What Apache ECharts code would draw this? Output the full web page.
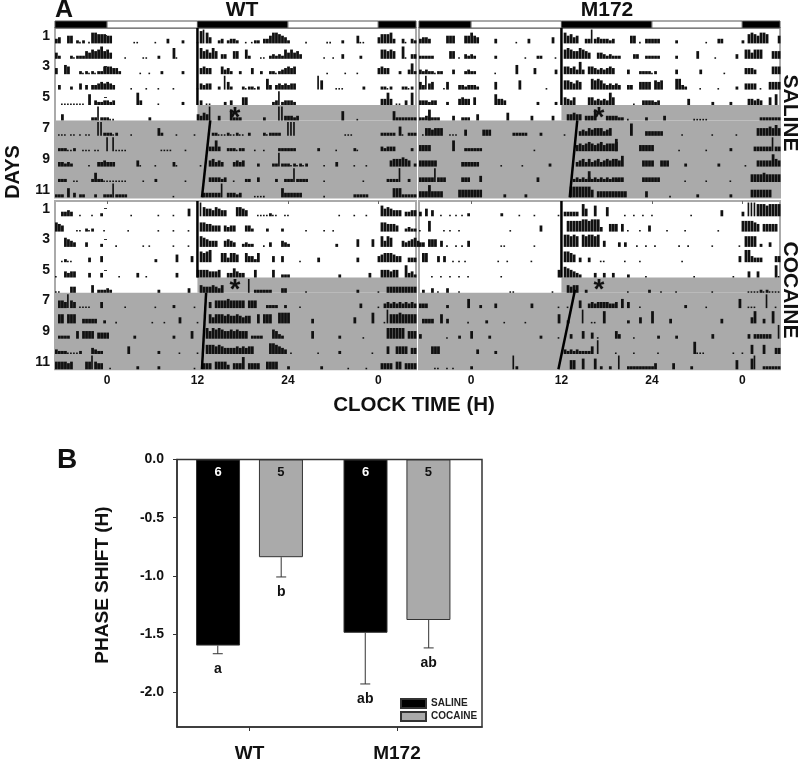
<!DOCTYPE html>
<html>
<head>
<meta charset="utf-8">
<title>Actograms and phase shift</title>
<style>html,body{margin:0;padding:0;background:#fff}#main{width:800px;height:760px}</style>
<script src="https://cdn.jsdelivr.net/npm/echarts@6/dist/echarts.min.js"></script>
</head>
<body>
<div id="main"></div>
<script>
// activity: "bin:heights", one bin = 0.4 h, digit = tenth of a row or so
var wtSaline = [
  '0:34 4:55 7:212 11:1 12:7766655 26:11 33:1 37:3 42:2 47:1 48:89 50:74 54:23 57:2332 63:1 65:122 69:3357 73:7654 77:2 83:1 90:11 95:2 100:5 101:11 107:4666 111:73 115:31 118:32',
  '0:42 5:2122 9:25465 14:68564 23:1 29:11 34:2 39:71 48:756475 55:33 59:55 63:62 68:11 71:23232 76:646453 89:1 92:1 95:3 101:2 108:66565 115:8 116:1 118:33',
  '0:4 3:65 8:21212122 16:55544 21:2 28:1 31:1 35:2 42:2 48:4544 55:534 58:2 61:2 65:4 68:2 71:2212 75:34545 90:1 96:1 100:1 107:4544 114:2 117:372',
  '1:3 5:2 8:4 10:3 12:33454543 25:1 30:1 34:1 39:1 47:1 48:4344 54:2 56:952 62:212212 70:73 73:3434344 87:96 93:111 102:2 108:2212 115:2212',
  '2:11111111 11:7 13:3223323 27:83 34:1 42:2 48:3 50:11 56:2 58:3 62:55 72:23923332 108:4484 113:11 116:3 118:8',
  '2:4 12:22922211 31:2 47:43549 54:3 58:7222 69:2 74:99 76:33323 95:6 100:1 112:6 113:2222222',
  '1:11101101011 14:99 16:22212 25:1 34:52 40:1 46:1 52:22111211211 64:2 69:212222 77:999 96:111 108:22222 114:61 117:222',
  '1:222112 9:111011 17:9 19:9 20:1111 35:1111 43:1 51:3373 57:222122 66:1 69:1 74:222222 87:2 93:1 99:21 108:32333 118:2',
  '1:33232 11:1 14:334333 27:41 33:1 39:31 48:1 51:45343 59:3434 67:2 72:2292 76:22121212 89:1 93:3 99:1 103:1 111:4555654 119:2',
  '1:222 6:11 12:2622 16:11111111 29:1 33:2 43:1 51:333323 59:1 63:22 67:3 73:2 76:22292222 89:1 102:1 110:22229 117:2',
  '0:222 4:6 6:3 8:22 13:2 16:22292222 39:1 49:3333339 57:33323 66:1111 75:6 76:333333 89:1 99:22222 112:666 115:22222'
];
var m172Saline = [
  '0:3443 9:555 15:55754 25:3 32:1 36:3 44:4 48:75645 55:3393433323 70:55 73:1 75:33333 85:2 95:1 99:33 107:2 109:67657 114:76 119:5',
  '0:22222 10:55 13:1 15:3232 25:2 35:1 39:22 45:1 48:676557654 59:44323222 71:33 75:22222 85:2 92:5 98:1 105:3 108:664666 117:555',
  '0:32322122 11:3 15:2322 25:1 32:6 38:4 45:3 48:5545383 56:554343454 69:3 73:222212 85:3 93:3 101:1 108:4443 117:555',
  '0:53945 8:1 9:5 13:3323332 25:5 33:6 42:1 48:665465 57:7676434343 69:33 73:5555 78:656 85:7732 93:1 99:1 105:2 108:4444 113:1 116:5555',
  '0:333233 9:2 13:4544 18:5 25:7443 39:2 45:2 48:5435 56:553434385 71:1 74:333323 89:4 97:2 103:2 109:44343 116:5 118:7',
  '0:2232 3:7222 11:3 14:222 19:4 29:5 37:3 44:3 49:44544 55:3337 62:333322 69:1 75:2 81:3 91:11111 113:222222 119:2',
  '1:1 2:554555 10:111 15:4 21:444 31:22222 40:2 48:1 53:34354555345 70:8 75:333333 87:1 97:1 105:1 112:55556575',
  '0:4444 11:7 15:222222 38:1 52:45456545645556 65:8 73:44444 86:1 95:1 103:2 111:333333933',
  '0:444444 14:333333 27:1 34:1 43:2 52:345353453 61:4545547 74:4444 80:444 88:2 99:2 108:1 112:44444854',
  '0:333339333 14:333 20:4 39:3 51:232323 56:7232323232 65:333 74:333333 88:1 95:1 103:1 110:5555655555',
  '0:44484444 13:55555555 28:2 35:2 50:77777775 59:4444444444 75:4 83:1 92:2 103:2 110:5555555'
];
var wtCocaine = [
  '2:3343 8:1 12:1 15:2 25:1 34:1 39:1 44:5 48:965546544 60:6654 67:1111211 76:11 94:1 99:1 103:1 108:7565444 116:3344',
  '0:654 7:11 10:212 16:1 24:1 34:1 39:1 44:1 48:6655444 56:4344 63:442 70:2 75:2 83:1 89:1 92:1 108:665554 116:2322',
  '3:6543 10:3 15:2 20:1 29:1 31:1 39:1 44:1 48:765444 56:4543 62:2322 69:1 71:3 75:432 93:2 100:5 105:5 108:7476 115:434564',
  '2:1211 11:3 15:4 33:2 40:5 45:4 48:767 51:8 55:663665 63:644 66:26 72:4 75:4 81:1 87:3 100:3 107:45666544 117:333',
  '0:1 3:4344 11:3 15:3 21:1 27:3 30:1 40:3 47:55554445 57:336433 66:5 72:5 75:222 94:2 104:3 108:555455 116:8342',
  '0:11 5:44 12:5 14:22232 34:2 44:3 48:544454 54:35 64:9 66:222222 75:33 83:1 100:2 107:1 110:4444444444',
  '1:554954 8:1111 15:4 23:1 33:1 39:2 46:1 51:4 53:5555655555 64:555 70:2222 76:2 81:1 101:3 107:1 109:34343434343',
  '1:66 4:666 9:33333 16:2 20:1 32:1 36:1 41:4 47:1 51:646665 57:65565455 67:6 69:666 74:7777 85:3 99:4 105:7 109:1 110:9666766666',
  '1:2222 7:5 9:5555 14:4444 26:2 39:2 45:5 50:75767655656555 65:2222 72:6532 85:5 94:2 102:1 110:777777 117:555',
  '0:322211112 12:4322 24:5 34:2 41:1 47:1 50:666565 56:4444545455 71:776543 78:1 87:1 94:2 105:1 110:5 113:5555 118:44',
  '0:555545 10:559544 18:1 27:2 34:2 46:1 49:444 53:5555 57:3 59:4448 64:4444 70:5555 77:2 88:2 97:1 103:1 108:4444 113:55 116:4444'
];
var m172Cocaine = [
  '0:3 2:5 4:4 7:1 10:1 12:1 14:1 16:2 27:2 33:1 38:1 46:1 48:33333 54:85 58:7 62:6 68:1 71:1 74:1 77:1 90:1 100:4 107:3 109:999 112:88878888',
  '0:1 3:7 8:1 10:1 13:1 30:1 40:4 49:777 52:77887888 60:3 63:555 67:5 69:1 73:1 76:4 82:1 88:1 99:1 107:777765 114:55555',
  '0:33 3:555 7:4 9:1 12:1 14:1 16:4 27:1 28:1 38:1 48:88787 54:878878 61:4 66:3 68:3 72:1 75:1 78:1 86:1 89:1 97:1 106:1 108:7777 113:2 116:3',
  '1:66 6:4 8:4 11:1 13:1 15:1 26:1 29:1 37:1 48:7765 53:3 56:3 60:1 61:1 68:1 73:1 87:1 106:4 108:884333 118:44',
  '4:1 7:1 10:1 13:1 16:1 27:1 46:5 48:765432 58:3 61:3 64:3 69:2 75:1 91:1 104:1 109:4 112:4 118:8 119:1',
  '1:2 4:3 6:1 9:3 13:1 30:11 44:1 49:5455 55:2 69:1 76:2 80:1 85:1 97:1 109:1111 113:212 116:1111',
  '0:333 9:2 16:6 20:2 25:3 37:3 46:1 49:1 53:5 56:3434444334 67:6 69:4 73:1 88:2 95:1 106:6 109:111 115:9 118:1',
  '1:3333 7:6 9:3 16:1 22:2 28:1 35:1 46:6 49:2 54:9 57:11 61:8 69:2 73:4 77:8 83:3 100:3 110:48 114:3 117:8',
  '0:3 9:1 13:2 17:5 23:2 40:2 46:1 50:3 54:5 57:4 59:1 65:5 66:3 71:1 79:2 85:2 97:3 109:3 111:333333 119:9',
  '4:555 19:3 25:2 48:323232222 57:5 59:9 65:1 71:1 79:1 91:8 92:111 104:1 107:1 110:6 114:6 118:4 119:4',
  '5:11 9:1 11:1 17:2 31:9 32:2 50:66 54:7 58:7 60:2 63:2 66:9 69:222222222 78:4 84:4 90:2 105:6 110:7 111:9 114:222222'
];

// rows are 1..11, y = row number on a 0-11 axis; onsets drawn as hour/row pairs
var wtSalineOnset = [[[12, 0], [12, 5]], [[13.7, 6], [12.6, 11]]];
var m172SalineOnset = [[[12, 0], [12, 5]], [[14.1, 6], [13.1, 11]]];
var wtCocaineOnset = [[[12, 0], [12, 5]], [[13.15, 6], [12.6, 11]]];
var m172CocaineOnset = [[[12, 0], [12, 5]], [[13.8, 5.8], [11.6, 11]]];
var grayBands = [[12, 5, 41, 6], [-6.9, 6, 41, 11]];
var ldBlocks = [[-6.9, 0, 1], [0, 12, 0], [12, 24, 1], [24, 36, 0], [36, 41, 1]];
var hourTicks = [0, 12, 24, 36];
var dayTicks = [0.5, 2.5, 4.5, 6.5, 8.5, 10.5];

// panel B
var groups = ['WT', 'M172'];
var groupPos = [0.4915, 1.4915];
var barOffset = 0.215;
var salineShift = [-1.6, -1.49];
var cocaineShift = [-0.84, -1.38];
var salineErrLow = [-1.67, -1.93];
var cocaineErrLow = [-1.01, -1.62];
var salineN = ['6', '6'];
var cocaineN = ['5', '5'];
var salineLetters = ['a', 'ab'];
var cocaineLetters = ['b', 'ab'];

var FONT = 'Liberation Sans';
var binHours = 0.4;
var firstHour = -6.9;

function parseRows(rows) {
  var out = [];
  rows.forEach(function (row, r) {
    row.split(' ').forEach(function (part) {
      var bits = part.split(':');
      var start = +bits[0];
      bits[1].split('').forEach(function (d, i) {
        if (+d > 0) out.push([firstHour + (start + i) * binHours, r + 1, +d]);
      });
    });
  });
  return out;
}

function renderBar(params, api) {
  var p = api.coord([api.value(0), api.value(1)]);
  var w = api.size([binHours, 0])[0];
  var d = api.value(2);
  var h = api.size([0, d / 10])[1];
  // lone spikes and single counts are thin in the record, clusters run together
  var bw = (d >= 9 || d === 1) ? w * 0.55 : w * 0.92;
  return { type: 'rect', shape: { x: p[0], y: p[1] - h, width: bw, height: h }, style: { fill: '#111' } };
}

function renderBand(params, api) {
  var a = api.coord([api.value(0), api.value(1)]);
  var b = api.coord([api.value(2), api.value(3)]);
  return { type: 'rect', shape: { x: a[0], y: a[1], width: b[0] - a[0], height: b[1] - a[1] }, style: { fill: '#aaaaaa' } };
}

function renderLd(params, api) {
  var a = api.coord([api.value(0), 1]);
  var b = api.coord([api.value(1), 0]);
  return {
    type: 'rect',
    shape: { x: a[0], y: a[1], width: b[0] - a[0], height: b[1] - a[1] },
    style: { fill: api.value(2) ? '#000' : '#fff', stroke: '#555', lineWidth: 1 }
  };
}

var grid = [], xAxis = [], yAxis = [], series = [];

function addPanel(rows, onset, left, top, height, showDays, showHours) {
  var i = grid.length;
  grid.push({ left: left, top: top, width: 361, height: height, outerBoundsMode: 'none', show: true, borderColor: '#aaa', borderWidth: 2, backgroundColor: '#fff' });
  xAxis.push({
    gridIndex: i, type: 'value', min: firstHour, max: 41,
    axisLine: { show: false }, splitLine: { show: false },
    axisTick: { show: showHours, length: 3, customValues: hourTicks, lineStyle: { color: '#666' } },
    axisLabel: {
      show: showHours, customValues: hourTicks, margin: 5, color: '#111', fontFamily: FONT, fontWeight: 'bold', fontSize: 12,
      formatter: function (v) { return v === 36 ? '0' : String(v); }
    }
  });
  yAxis.push({
    gridIndex: i, type: 'value', min: 0, max: 11, inverse: true,
    axisLine: { show: false }, splitLine: { show: false },
    axisTick: { show: showDays, length: 3, customValues: dayTicks, lineStyle: { color: '#333' } },
    axisLabel: {
      show: showDays, customValues: dayTicks, margin: 5, color: '#111', fontFamily: FONT, fontWeight: 'bold', fontSize: 14,
      formatter: function (v) { return String(v + 0.5); }
    }
  });
  series.push({ type: 'custom', xAxisIndex: i, yAxisIndex: i, z: 1, silent: true, renderItem: renderBand, encode: { x: [0, 2], y: [1, 3] }, data: grayBands });
  series.push({ type: 'custom', xAxisIndex: i, yAxisIndex: i, z: 2, silent: true, renderItem: renderBar, encode: { x: 0, y: 1 }, data: parseRows(rows) });
  onset.forEach(function (seg) {
    series.push({ type: 'line', xAxisIndex: i, yAxisIndex: i, z: 3, silent: true, symbol: 'none', lineStyle: { color: '#000', width: 2.5 }, data: seg });
  });
}

function addLdBar(left) {
  var i = grid.length;
  grid.push({ left: left, top: 21, width: 361, height: 7, outerBoundsMode: 'none' });
  xAxis.push({ gridIndex: i, type: 'value', min: firstHour, max: 41, show: false });
  yAxis.push({ gridIndex: i, type: 'value', min: 0, max: 1, show: false });
  series.push({ type: 'custom', xAxisIndex: i, yAxisIndex: i, silent: true, renderItem: renderLd, encode: { x: [0, 1] }, data: ldBlocks });
}

addPanel(wtSaline, wtSalineOnset, 55, 28, 169.4, true, false);
addPanel(m172Saline, m172SalineOnset, 419, 28, 169.4, false, false);
addPanel(wtCocaine, wtCocaineOnset, 55, 201, 168.3, true, true);
addPanel(m172Cocaine, m172CocaineOnset, 419, 201, 168.3, false, true);
addLdBar(55);
addLdBar(419);

// panel B
var b = grid.length;
grid.push({ left: 177, top: 459.5, width: 305, height: 267.5, outerBoundsMode: 'none', show: true, borderColor: '#333', borderWidth: 1.5, backgroundColor: '#fff' });
xAxis.push({
  gridIndex: b, type: 'value', min: 0, max: 2.068, position: 'bottom',
  axisLine: { onZero: false, lineStyle: { color: '#333', width: 1.5 } }, splitLine: { show: false },
  axisTick: { customValues: groupPos, length: 4, lineStyle: { color: '#333' } },
  axisLabel: {
    customValues: groupPos, margin: 17, color: '#111', fontFamily: FONT, fontWeight: 'bold', fontSize: 19,
    formatter: function (v) { return groups[groupPos.indexOf(v)]; }
  }
});
yAxis.push({
  gridIndex: b, type: 'value', min: -2.3, max: 0,
  axisLine: { lineStyle: { color: '#333', width: 1.5 } }, splitLine: { show: false },
  axisTick: { customValues: [0, -0.5, -1, -1.5, -2], length: 4, lineStyle: { color: '#333' } },
  axisLabel: {
    customValues: [0, -0.5, -1, -1.5, -2], margin: 13, color: '#111', fontFamily: FONT, fontWeight: 'bold', fontSize: 14,
    formatter: function (v) { return v.toFixed(1); }
  }
});

function barSeries(name, values, counts, fill, labelColor) {
  return {
    name: name, type: 'bar', xAxisIndex: b, yAxisIndex: b, barWidth: 44, barGap: '43%',
    itemStyle: { color: fill, borderColor: '#333', borderWidth: 1 },
    label: {
      show: true, position: 'insideTop', distance: 6, color: labelColor, fontFamily: FONT, fontWeight: 'bold', fontSize: 13,
      formatter: function (p) { return counts[p.dataIndex]; }
    },
    data: values.map(function (v, i) { return [groupPos[i], v]; })
  };
}

function errSeries(values, lows, letters, offset) {
  return {
    type: 'custom', xAxisIndex: b, yAxisIndex: b, z: 4, silent: true,
    encode: { x: 0, y: [1, 2] },
    renderItem: function (params, api) {
      var top = api.coord([api.value(0), api.value(1)]);
      var low = api.coord([api.value(0), api.value(2)]);
      return {
        type: 'group',
        children: [
          { type: 'line', shape: { x1: top[0], y1: top[1], x2: low[0], y2: low[1] }, style: { stroke: '#333', lineWidth: 1 } },
          { type: 'line', shape: { x1: low[0] - 5, y1: low[1], x2: low[0] + 5, y2: low[1] }, style: { stroke: '#333', lineWidth: 1 } },
          { type: 'text', x: low[0], y: low[1] + 15, style: { text: letters[params.dataIndex], fill: '#111', font: 'bold 14px "' + FONT + '"', textAlign: 'center', textVerticalAlign: 'middle' } }
        ]
      };
    },
    data: values.map(function (v, i) { return [groupPos[i] + offset, v, lows[i]]; })
  };
}

series.push(barSeries('SALINE', salineShift, salineN, '#000', '#fff'));
series.push(barSeries('COCAINE', cocaineShift, cocaineN, '#aaaaaa', '#111'));
series.push(errSeries(salineShift, salineErrLow, salineLetters, -barOffset));
series.push(errSeries(cocaineShift, cocaineErrLow, cocaineLetters, barOffset));

function txt(text, x, y, size, rotation) {
  return {
    type: 'text', x: x, y: y, rotation: rotation || 0, z: 10,
    style: { text: text, fill: '#111', font: 'bold ' + size + 'px "' + FONT + '"', textAlign: 'center', textVerticalAlign: 'middle' }
  };
}

var myChart = echarts.init(document.getElementById('main'), null, { renderer: 'canvas' });
myChart.setOption({
  backgroundColor: '#fff',
  animation: false,
  legend: {
    left: 395, top: 693, orient: 'vertical', itemWidth: 25, itemHeight: 9, itemGap: 2, icon: 'rect',
    textStyle: { color: '#222', fontFamily: FONT, fontWeight: 'bold', fontSize: 10 },
    data: ['SALINE', 'COCAINE']
  },
  grid: grid, xAxis: xAxis, yAxis: yAxis, series: series,
  graphic: [
    txt('A', 64, 10, 25),
    txt('B', 67, 460, 28),
    txt('WT', 242, 10, 21),
    txt('M172', 607, 10, 21),
    txt('DAYS', 13, 172, 20, Math.PI / 2),
    txt('SALINE', 790, 113, 21, -Math.PI / 2),
    txt('COCAINE', 790, 290, 21, -Math.PI / 2),
    txt('CLOCK TIME (H)', 414, 405, 20.5),
    txt('PHASE SHIFT (H)', 103, 585, 19, Math.PI / 2),
    txt('*', 235, 118, 28),
    txt('*', 599, 118, 28),
    txt('*', 235, 290, 28),
    txt('*', 599, 290, 28)
  ]
});
</script>
</body>
</html>
